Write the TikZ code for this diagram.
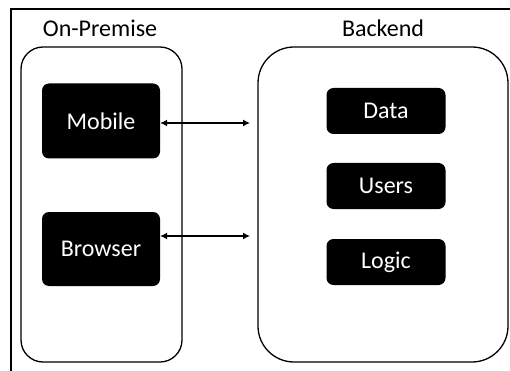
\documentclass[tikz,border=0pt]{standalone}
\usepackage{fontspec}
\setmainfont{Carlito}
\usetikzlibrary{arrows.meta,positioning,calc}

\begin{document}
\begin{tikzpicture}[
    x=1pt, y=-1pt,
    zone/.style={draw, line width=1.3pt, rounded corners=#1},
    comp/.style={fill=black, text=white, rounded corners=7pt, inner sep=0pt, font=\fontsize{24}{28}\selectfont},
    title/.style={font=\fontsize{24}{28}\selectfont},
    wire/.style={line width=1.2pt, {Latex[length=7pt,width=7pt]}-{Latex[length=7pt,width=7pt]}}
  ]
  \useasboundingbox (0,0) rectangle (510,371);
  \begin{scope}
    \clip (0,0) rectangle (510,371);
    \draw[line width=1.8pt] (11,9) rectangle (530,390);
  \end{scope}

  \node[title] (Tprem) at (100,28) {On-Premise};
  \node[title] (Tback) at (383,28) {Backend};

  \draw[zone=22pt] (21,47) rectangle (182,362);
  \draw[zone=36pt] (258,47) rectangle (508,362);

  \node[comp, minimum width=118pt, minimum height=75pt] (Mobile) at (101,121) {Mobile};
  \node[comp, minimum width=118pt, minimum height=74pt] (Browser) at (101,249) {Browser};

  \node[comp, minimum width=119pt, minimum height=46pt] (Data) at (386,111) {Data};
  \node[comp, minimum width=119pt, minimum height=46pt] (Users) at (386,186) {Users};
  \node[comp, minimum width=119pt, minimum height=46pt] (Logic) at (386,262) {Logic};

  \coordinate (Mend) at (250,123);
  \coordinate (Bend) at (250,236);
  \draw[wire] (Mobile.east |- Mend) -- (Mend);
  \draw[wire] (Browser.east |- Bend) -- (Bend);
\end{tikzpicture}
\end{document}
